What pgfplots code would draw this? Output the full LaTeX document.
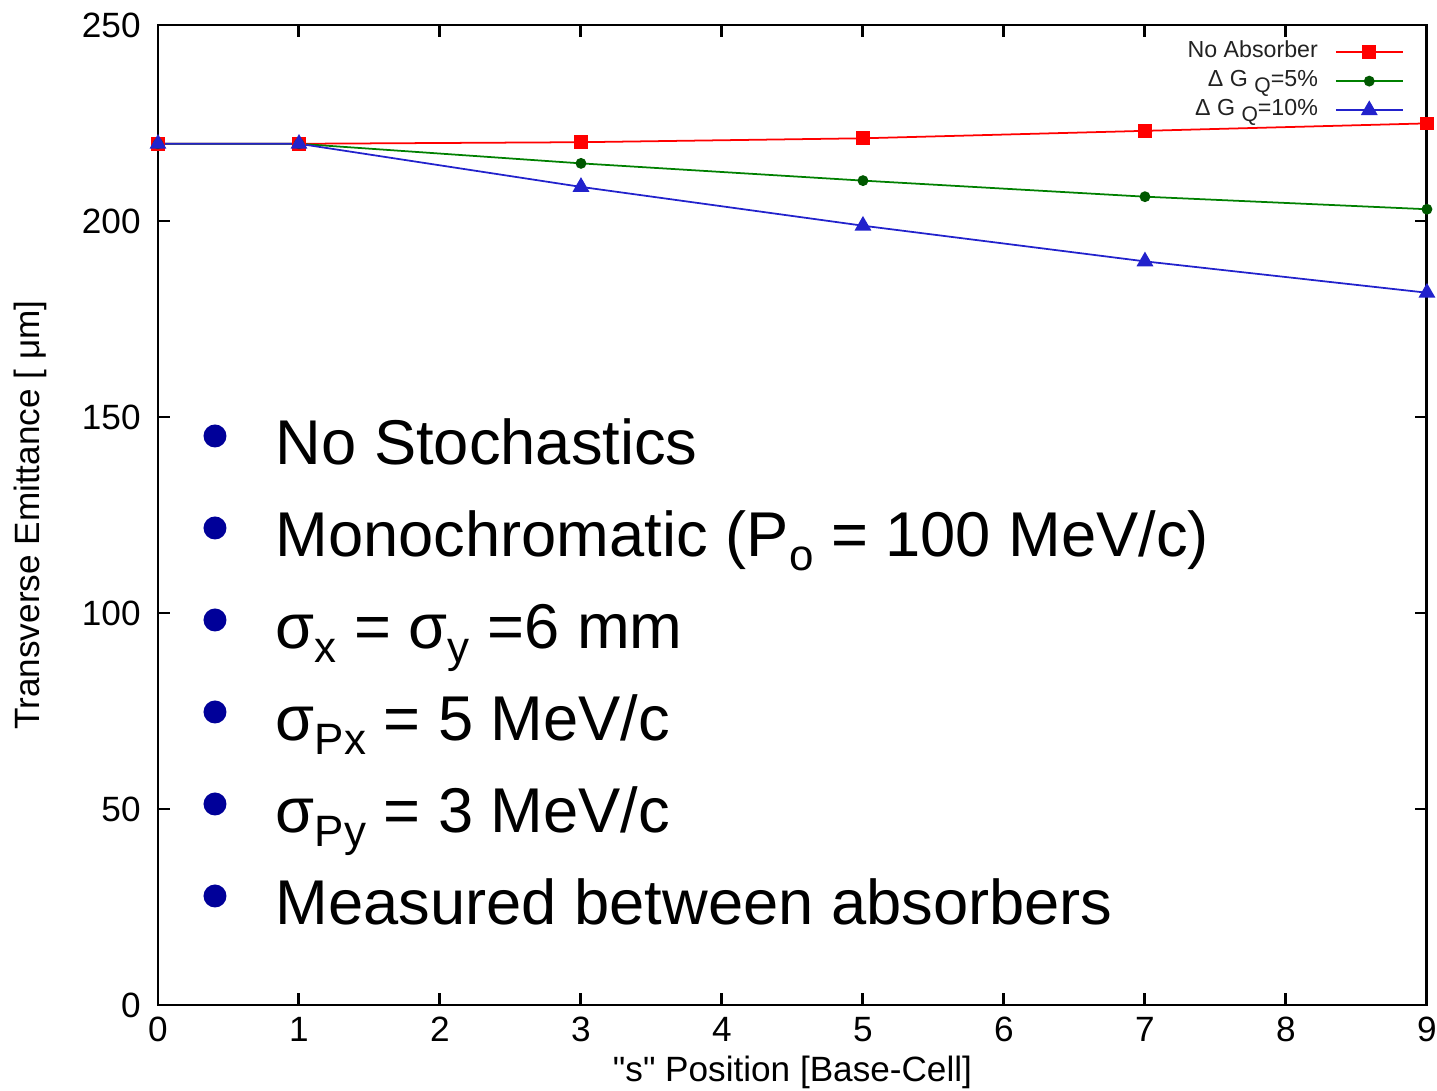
\documentclass[border=0pt]{standalone}
\usepackage{fontspec}
\setmainfont{Liberation Sans}[Ligatures=TeXOff]
\usepackage{pgfplots}
\pgfplotsset{compat=1.18}
\definecolor{navy}{HTML}{000099}
\definecolor{myred}{HTML}{FF0000}
\definecolor{mygreen}{HTML}{008000}
\definecolor{mydkgreen}{HTML}{005800}
\definecolor{myblue}{HTML}{2222CC}
\definecolor{legtext}{HTML}{222222}
\newcommand\sub[1]{\raisebox{-1.4mm}{\fontsize{12.5}{12.5}\selectfont #1}}
\newcommand\lsub[1]{\raisebox{-0.6mm}{\fontsize{6}{6}\selectfont #1}}
\begin{document}
\begin{tikzpicture}
\begin{axis}[
 name=ax, at={(0,0)}, anchor=south west,
 scale only axis, width=126.9mm, height=98mm,
 xmin=0, xmax=9, ymin=0, ymax=250,
 xtick={0,1,...,9}, ytick={0,50,...,250},
 tick align=inside, major tick length=1.2mm,
 axis line style={line width=0.85pt},
 every tick/.style={black, line width=0.85pt},
 tick label style={font=\fontsize{10}{12}\selectfont},
 yticklabel style={xshift=-0.5mm},
 /pgf/number format/assume math mode=true,
 xlabel={"s" Position [Base-Cell]},
 ylabel={Transverse Emittance [ μm]},
 label style={font=\fontsize{9.2}{11}\selectfont},
 every axis x label/.style={at={(axis description cs:0.5,-0.0684)}, anchor=center},
 every axis y label/.style={at={(axis description cs:-0.1009,0.5)}, anchor=center, rotate=90},
 legend style={draw=none, fill=none, at={(0.9905,0.995)}, anchor=north east,
   font=\fontsize{6.6}{7}\selectfont, text=legtext, row sep=0pt, column sep=1.2mm,
   nodes={inner sep=0.5mm, text height=1.5mm, text depth=0.4mm}},
 legend cell align=right, legend plot pos=right,
 legend image code/.code={\draw[mark repeat=2,mark phase=2] plot coordinates {(0mm,0mm) (3.35mm,0mm) (6.7mm,0mm)};},
]
\addplot[color=myred, line width=0.5pt, mark=square*, mark size=0.6mm, mark options={fill=myred, draw=myred}]
 coordinates {(0,219.7) (1,219.7) (3,220.1) (5,221.1) (7,223.0) (9,224.9)};
\addlegendentry{No Absorber}
\addplot[color=mygreen, line width=0.5pt, mark=*, mark size=0.45mm, mark options={fill=mydkgreen, draw=mydkgreen}]
 coordinates {(0,219.7) (1,219.7) (3,214.7) (5,210.3) (7,206.2) (9,203.0)};
\addlegendentry{Δ G \lsub{Q}=5\%}
\addplot[color=myblue, line width=0.5pt, mark=triangle*, mark size=0.8mm, mark options={fill=myblue, draw=myblue}]
 coordinates {(0,219.7) (1,219.7) (3,208.7) (5,198.8) (7,189.7) (9,181.7)};
\addlegendentry{Δ G \lsub{Q}=10\%}
\end{axis}
\begin{scope}[every node/.style={anchor=base west, inner sep=0pt, font=\fontsize{18}{20}\selectfont}]
\node at (11.7mm,54.0mm) {No Stochastics};
\node at (11.7mm,44.8mm) {Monochromatic (P\sub{o} = 100 MeV/c)};
\node at (11.7mm,35.6mm) {σ\sub{x} = σ\sub{y} =6 mm};
\node at (11.7mm,26.4mm) {σ\sub{Px} = 5 MeV/c};
\node at (11.7mm,17.2mm) {σ\sub{Py} = 3 MeV/c};
\node at (11.7mm,8.0mm) {Measured between absorbers};
\end{scope}
\foreach \b in {54.0,44.8,35.6,26.4,17.2,8.0}{
  \fill[navy] (5.7mm,\b mm+2.9mm) circle (1.15mm);
}
\pgfresetboundingbox
\path (-15.8mm,-8.6mm) rectangle (127.9mm,100.5mm);
\end{tikzpicture}
\end{document}
